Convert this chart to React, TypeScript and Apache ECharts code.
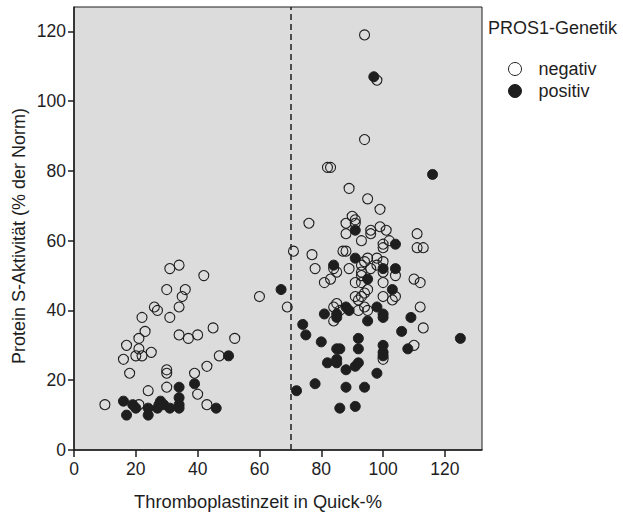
import React, { useEffect, useRef } from "react";
import * as echarts from "echarts";

const xTicks = [0, 20, 40, 60, 80, 100, 120];
const yTicks = [0, 20, 40, 60, 80, 100, 120];
const cutoffX = 70;
const xTitle = "Thromboplastinzeit in Quick-%";
const yTitle = "Protein S-Aktivität (% der Norm)";
const legendTitle = "PROS1-Genetik";

const negX = [31, 34, 42, 30, 36, 35, 26, 27, 34, 22, 31, 23, 34, 37, 40, 45, 52, 60, 21, 17, 21, 16, 20, 22, 25, 18, 30, 30, 47, 43, 39, 24, 30, 40, 10, 21, 43,
  82, 83, 89, 95, 99, 90, 91, 91, 88, 76, 99, 101, 96, 96, 88, 111, 102, 93, 100, 100, 111, 113, 71, 87, 88, 77, 95, 94, 98, 100, 78, 85, 84, 89, 93, 93, 96, 98, 100, 104, 83, 81, 91, 93, 93, 95, 100, 110, 112, 91, 100, 104, 69, 85, 84, 86, 84, 92, 94, 95, 92, 93, 94, 103, 112, 113, 110, 100, 94, 98, 94];
const negY = [52, 53, 50, 46, 46, 44, 41, 40, 41, 38, 38, 34, 33, 32, 33, 35, 32, 44, 32, 30, 29, 26, 27, 27, 28, 22, 23, 22, 27, 24, 22, 17, 18, 16, 13, 13, 13,
  81, 81, 75, 72, 69, 67, 66, 65, 65, 65, 64, 63, 63, 62, 62, 62, 60, 60, 59, 58, 58, 58, 57, 57, 57, 56, 55, 54, 55, 54, 52, 51, 52, 52, 53, 51, 52, 53, 51, 50, 49, 48, 48, 48, 50, 46, 48, 49, 48, 44, 44, 44, 41, 42, 41, 40, 37, 40, 41, 40, 43, 44, 45, 43, 41, 35, 30, 26, 119, 106, 89];

const posX = [50, 67, 34, 39, 34, 16, 19, 20, 24, 27, 28, 29, 31, 34, 34, 17, 24, 46, 27.5,
  116, 97, 91, 104, 91, 84, 100, 104, 95, 103, 81, 85, 85, 88, 89, 98, 100, 100, 95, 109, 106, 74, 75, 80, 92, 85, 86, 92, 100, 100, 100, 108, 125, 82, 85, 85, 88, 91, 92, 98, 78, 72, 88, 94, 86, 91];
const posY = [27, 46, 18, 19, 15, 14, 13, 12, 12, 12, 14, 13, 12, 13, 12, 10, 10, 12, 13,
  79, 107, 63, 59, 55, 53, 52, 52, 49, 46, 39, 39, 38, 41, 40, 41, 39, 38, 37, 38, 34, 36, 33, 31, 32, 29, 29, 29, 30, 28, 27, 29, 32, 25, 26, 25, 23, 24, 25, 22, 19, 17, 18, 18, 12, 12.5];

const FONT = "'Liberation Sans', Arial, sans-serif";
const INK = "#1e1e1e";

export default function App() {
  const ref = useRef<HTMLDivElement>(null);
  useEffect(() => {
    if (!ref.current) return;
    const chart = echarts.init(ref.current, null, { renderer: "svg" });
    const neg = negX.map((x, i) => [x, negY[i]]);
    const pos = posX.map((x, i) => [x, posY[i]]);
    chart.setOption({
      animation: false,
      backgroundColor: "#ffffff",
      textStyle: { fontFamily: FONT },
      title: {
        text: legendTitle,
        left: 488,
        top: 19,
        padding: 0,
        textStyle: { fontFamily: FONT, fontSize: 18, fontWeight: "normal", color: INK },
      },
      graphic: [
        {
          type: "text",
          x: 258,
          y: 501,
          style: { text: xTitle, font: `18.3px ${FONT}`, fill: INK, align: "center", verticalAlign: "middle" },
        },
        {
          type: "text",
          x: 19,
          y: 236,
          rotation: Math.PI / 2,
          style: { text: yTitle, font: `18px ${FONT}`, fill: INK, align: "center", verticalAlign: "middle" },
        },
      ],
      legend: {
        data: [
          { name: "negativ", itemStyle: { color: "#ffffff", borderColor: INK, borderWidth: 1 } },
          { name: "positiv", itemStyle: { color: INK, borderColor: INK, borderWidth: 1 } },
        ],
        orient: "vertical",
        left: 508,
        top: 60,
        padding: 0,
        itemWidth: 13,
        itemHeight: 13,
        itemGap: 4,
        icon: "circle",
        textStyle: { fontFamily: FONT, fontSize: 18, color: INK, padding: [0, 0, 0, 12] },
      },
      grid: {
        left: 74,
        top: 7,
        width: 408,
        height: 443,
        show: true,
        backgroundColor: "#dcdcdd",
        borderColor: INK,
        borderWidth: 1,
      },
      xAxis: {
        type: "value",
        min: 0,
        max: 132,
        splitLine: { show: false },
        axisLine: { show: true, lineStyle: { color: INK, width: 1.5 } },
        axisTick: { show: true, length: 7, lineStyle: { color: INK, width: 1.5 }, customValues: xTicks },
        axisLabel: { fontFamily: FONT, fontSize: 17.5, color: INK, margin: 10, customValues: xTicks },
      },
      yAxis: {
        type: "value",
        min: 0,
        max: 127,
        splitLine: { show: false },
        axisLine: { show: true, lineStyle: { color: INK, width: 1.5 } },
        axisTick: { show: true, length: 6, lineStyle: { color: INK, width: 1.5 }, customValues: yTicks },
        axisLabel: { fontFamily: FONT, fontSize: 17.5, color: INK, margin: 8, customValues: yTicks },
      },
      series: [
        {
          name: "positiv",
          type: "scatter",
          data: pos,
          symbol: "circle",
          symbolSize: 10,
          itemStyle: { color: INK, borderColor: INK, borderWidth: 1, opacity: 1 },
          markLine: {
            silent: true,
            symbol: "none",
            label: { show: false },
            lineStyle: { color: INK, width: 1.5, type: [6, 4] },
            data: [{ xAxis: cutoffX }],
          },
        },
        {
          name: "negativ",
          type: "scatter",
          data: neg,
          symbol: "circle",
          symbolSize: 10,
          itemStyle: { color: "rgba(255,255,255,0)", borderColor: INK, borderWidth: 1.1, opacity: 1 },
        },
      ],
    });
    return () => chart.dispose();
  }, []);
  return <div ref={ref} style={{ position: "fixed", left: 0, top: 0, width: 623, height: 513 }} />;
}
